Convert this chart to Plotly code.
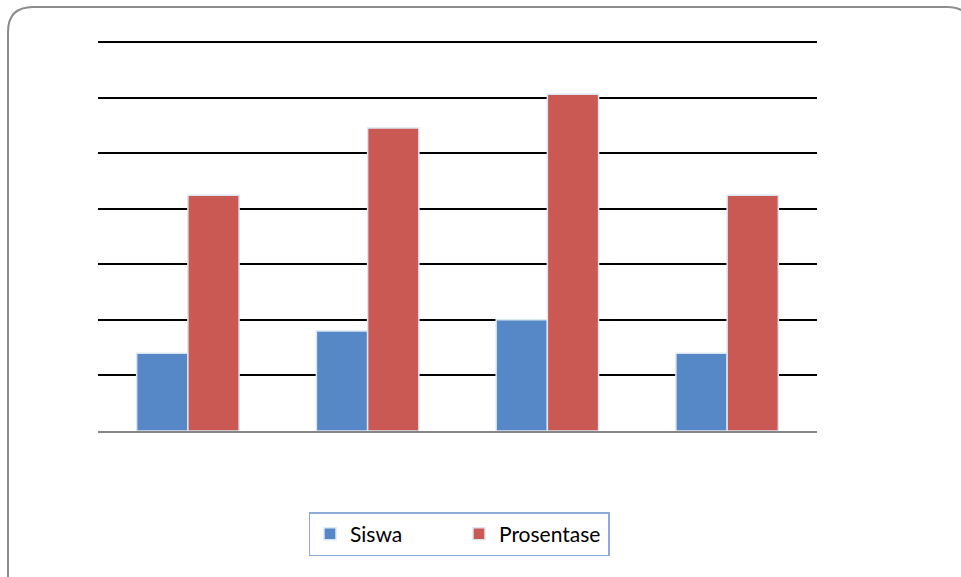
import plotly.graph_objects as go

categories = ["1", "2", "3", "4"]
siswa = [7, 9, 10, 7]
prosentase = [21.21, 27.27, 30.30, 21.21]
series_names = ["Siswa", "Prosentase"]

W, H = 961, 577
L, R, T, B = 98, 144, 38, 146
pw, ph = W - L - R, H - T - B
ytop = 35 * ph / 389.0

def px(x):
    return (x - L) / pw

def py(y):
    return (H - B - y) / ph

fig = go.Figure()
fig.add_trace(go.Bar(x=categories, y=siswa, name=series_names[0],
                     marker=dict(color="#5688C7", line=dict(color="#DCE6F2", width=1.5))))
fig.add_trace(go.Bar(x=categories, y=prosentase, name=series_names[1],
                     marker=dict(color="#CA5954", line=dict(color="#DCE6F2", width=1.5))))

# rounded outer border (chart area frame)
x0, y0, x1, y1, r = 8, 7, 972, 612, 25
path = (f"M {px(x0)},{py(y0 + r)} "
        f"Q {px(x0)},{py(y0)} {px(x0 + r)},{py(y0)} "
        f"L {px(x1 - r)},{py(y0)} "
        f"Q {px(x1)},{py(y0)} {px(x1)},{py(y0 + r)} "
        f"L {px(x1)},{py(y1 - r)} "
        f"Q {px(x1)},{py(y1)} {px(x1 - r)},{py(y1)} "
        f"L {px(x0 + r)},{py(y1)} "
        f"Q {px(x0)},{py(y1)} {px(x0)},{py(y1 - r)} Z")

fig.update_layout(
    width=W, height=H,
    margin=dict(l=L, r=R, t=T, b=B),
    paper_bgcolor="white", plot_bgcolor="white",
    barmode="group", bargap=0.43, bargroupgap=0.0,
    showlegend=True,
    legend=dict(orientation="h", x=px(459), y=py(534), xanchor="center", yanchor="middle",
                bordercolor="#8EAADB", borderwidth=1.5,
                font=dict(family="Lato, Liberation Sans, sans-serif", size=21, color="black"),
                itemwidth=30, tracegroupgap=0, entrywidth=104),
    xaxis=dict(showticklabels=False, ticks="", showgrid=False, zeroline=False,
               showline=True, linecolor="#868686", linewidth=2),
    yaxis=dict(range=[0, ytop], tickmode="linear", tick0=0, dtick=5, showticklabels=False, ticks="",
               showgrid=True, gridcolor="black", gridwidth=2, zeroline=False, showline=False),
    shapes=[dict(type="path", xref="paper", yref="paper", path=path,
                 line=dict(color="#8C8C8C", width=2), layer="below")],
)

fig.write_html("out.html", config={"displayModeBar": False},
               post_script="document.body.style.margin='0';")
